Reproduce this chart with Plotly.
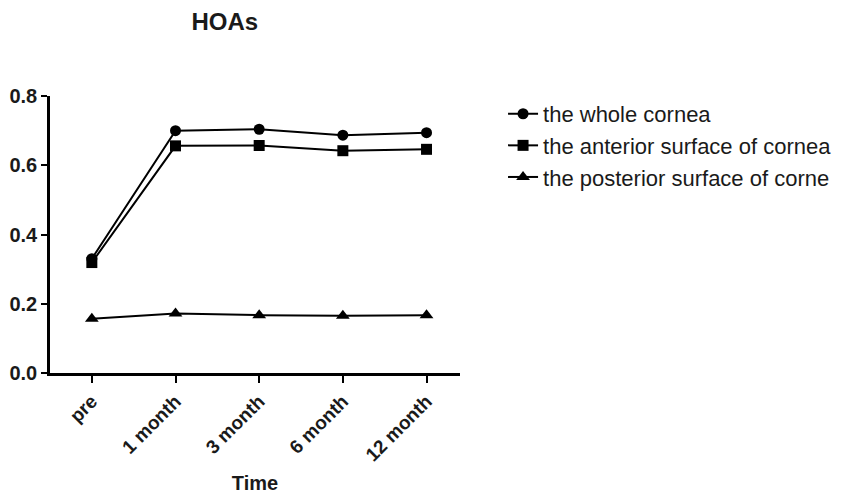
import plotly.graph_objects as go

# data
time_points = ['pre', '1 month', '3 month', '6 month', '12 month']
whole_cornea = [0.330, 0.700, 0.704, 0.687, 0.694]
anterior_surface = [0.319, 0.656, 0.657, 0.642, 0.646]
posterior_surface = [0.157, 0.172, 0.167, 0.165, 0.167]

series_names = ['the whole cornea', 'the anterior surface of cornea',
                'the posterior surface of corne']
series_symbols = ['circle', 'square', 'triangle-up']

font_family = 'Liberation Sans, Arial, sans-serif'

fig = go.Figure()
for i, (name, vals, sym) in enumerate(zip(series_names,
                                          [whole_cornea, anterior_surface, posterior_surface],
                                          series_symbols)):
    fig.add_trace(go.Scatter(
        x=time_points,
        y=vals,
        mode='lines+markers',
        name=name,
        legendgroup='g%d' % i,
        line=dict(color='black', width=2),
        marker=dict(symbol=sym, size=11 if sym != 'triangle-up' else 12, color='black')))

# page body adds an 8px margin, so the figure is laid out 8px up/left of the target
fig.update_layout(
    width=847,
    height=493,
    paper_bgcolor='white',
    plot_bgcolor='white',
    margin=dict(l=42, r=395, t=88, b=128),
    font=dict(family=font_family, color='#1a1a1a'),
    title=dict(text='<b>HOAs</b>', x=0.256, xanchor='center', y=0.972, yanchor='middle',
               font=dict(size=24, color='#1a1a1a')),
    showlegend=True,
    legend=dict(x=1.105, xanchor='left', y=1.011, yanchor='top',
                font=dict(size=22, color='#1a1a1a'), tracegroupgap=0,
                bgcolor='rgba(0,0,0,0)'),
    xaxis=dict(
        type='category',
        range=[-0.5, 4.4],
        automargin=False,
        showline=True, linecolor='black', linewidth=2.5,
        ticks='outside', ticklen=7, tickwidth=2, tickcolor='black',
        tickangle=-45,
        tickfont=dict(size=19, family=font_family, weight='bold'),
        showgrid=False, zeroline=False,
        title=dict(text='<b>Time</b>', font=dict(size=20), standoff=12)),
    yaxis=dict(
        range=[0, 0.8],
        automargin=False,
        tickvals=[0, 0.2, 0.4, 0.6, 0.8],
        tickformat='.1f',
        showline=True, linecolor='black', linewidth=2.5,
        ticks='outside', ticklen=6, tickwidth=2, tickcolor='black',
        tickfont=dict(size=20, family=font_family, weight='bold'),
        showgrid=False, zeroline=False),
)

fig.write_html('out.html')
